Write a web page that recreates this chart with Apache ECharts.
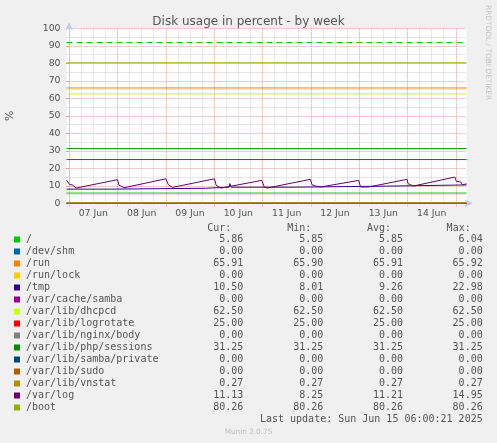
<!DOCTYPE html>
<html><head><meta charset="utf-8">
<script src="https://cdn.jsdelivr.net/npm/echarts@6/dist/echarts.min.js"></script>
<style>html,body{margin:0;padding:0;background:#F0F0F0;}#c{width:497px;height:443px;}</style>
</head><body><div id="c"></div>
<script>
// ---------- data ----------
const TITLE = 'Disk usage in percent - by week';
const Y_NAME = '%';
const WATERMARK = 'RRDTOOL / TOBI OETIKER';
const FOOTER = 'Munin 2.0.75';
const LAST_UPDATE = 'Last update: Sun Jun 15 06:00:21 2025';
const HEADERS = ['Cur:', 'Min:', 'Avg:', 'Max:'];

// time in hours since 07 Jun 00:00
const T_START = -1.3;
const T_END = 197.3;
const DAY_LABELS = ['07 Jun', '08 Jun', '09 Jun', '10 Jun', '11 Jun', '12 Jun', '13 Jun', '14 Jun'];
const DAY_LABEL_HOURS = [12, 36, 60, 84, 108, 132, 156, 180];
const MIDNIGHT_HOURS = [0, 24, 48, 72, 96, 120, 144, 168, 192];
const SIX_HOUR_MARKS = [6, 12, 18, 30, 36, 42, 54, 60, 66, 78, 84, 90, 102, 108, 114, 126, 132, 138, 150, 156, 162, 174, 180, 186];
const WARNING = 92;

const FIELD_NAMES = ['/', '/dev/shm', '/run', '/run/lock', '/tmp', '/var/cache/samba', '/var/lib/dhcpcd',
  '/var/lib/logrotate', '/var/lib/nginx/body', '/var/lib/php/sessions', '/var/lib/samba/private',
  '/var/lib/sudo', '/var/lib/vnstat', '/var/log', '/boot'];
const FIELD_COLORS = ['#00CC00', '#0066B3', '#FF8000', '#FFCC00', '#330099', '#990099', '#CCFF00',
  '#FF0000', '#808080', '#008F00', '#00487D', '#B35A00', '#B38F00', '#6B006B', '#8FB300'];
const CUR = [5.86, 0.00, 65.91, 0.00, 10.50, 0.00, 62.50, 25.00, 0.00, 31.25, 0.00, 0.00, 0.27, 11.13, 80.26];
const MIN = [5.85, 0.00, 65.90, 0.00, 8.01, 0.00, 62.50, 25.00, 0.00, 31.25, 0.00, 0.00, 0.27, 8.25, 80.26];
const AVG = [5.85, 0.00, 65.91, 0.00, 9.26, 0.00, 62.50, 25.00, 0.00, 31.25, 0.00, 0.00, 0.27, 11.21, 80.26];
const MAX = [6.04, 0.00, 65.92, 0.00, 22.98, 0.00, 62.50, 25.00, 0.00, 31.25, 0.00, 0.00, 0.27, 14.95, 80.26];

// series values: [hour, percent]
const S_ROOT = [[-1.3, 5.85], [197.3, 5.86]];
const S_DEVSHM = [[-1.3, 0], [197.3, 0]];
const S_RUN = [[-1.3, 65.91], [197.3, 65.91]];
const S_RUNLOCK = [[-1.3, 0], [197.3, 0]];
const S_TMP = [[-1.3, 8.1], [20.4, 8.1], [20.4, 8.6], [67.6, 8.6], [67.6, 9.2], [79.3, 9.2], [79.8, 11.3],
  [80.5, 9.2], [111.3, 9.2], [111.3, 9.8], [157, 9.8], [157, 10.4], [197.3, 10.5]];
const S_CACHESAMBA = [[-1.3, 0], [197.3, 0]];
const S_DHCPCD = [[-1.3, 62.5], [197.3, 62.5]];
const S_LOGROTATE = [[-1.3, 25], [197.3, 25]];
const S_NGINX = [[-1.3, 0], [197.3, 0]];
const S_PHP = [[-1.3, 31.25], [197.3, 31.25]];
const S_SAMBAPRIV = [[-1.3, 0], [197.3, 0]];
const S_SUDO = [[-1.3, 0], [197.3, 0]];
const S_VNSTAT = [[-1.3, 0.27], [197.3, 0.27]];
const S_VARLOG = [[-1.3, 13.3], [-0.5, 14.0], [0.3, 10.6], [1.5, 10.6], [2.3, 9.9], [3.5, 8.7],
  [24, 13.5], [24.8, 10.3], [26, 9.7], [27.3, 8.9],
  [48, 14.0], [49.3, 10.6], [51.3, 9.1],
  [72.2, 14.0], [73, 10.3], [74.5, 9.3], [75.5, 8.7],
  [95.7, 13.1], [96.9, 9.3], [98.2, 8.7],
  [119.8, 13.7], [120.6, 10.6], [122.3, 9.9], [124.8, 9.3],
  [143.8, 13.1], [144.7, 9.3], [145.5, 8.7], [148.6, 9.3],
  [167.8, 13.7], [168.3, 11.2], [169.5, 10.6], [171.1, 9.9],
  [191.5, 15.0], [192.2, 12.6], [194.4, 12.2], [195.2, 10.6], [197.3, 11.1]];
const S_BOOT = [[-1.3, 80.26], [197.3, 80.26]];
const SERIES_DATA = [S_ROOT, S_DEVSHM, S_RUN, S_RUNLOCK, S_TMP, S_CACHESAMBA, S_DHCPCD, S_LOGROTATE,
  S_NGINX, S_PHP, S_SAMBAPRIV, S_SUDO, S_VNSTAT, S_VARLOG, S_BOOT];

// ---------- chart ----------
const TXT = '#555';
const MAJOR = '#E59A9A';
const MINOR = '#CFCFCF';
const AXIS = '#C4C8F4';
const chart = echarts.init(document.getElementById('c'), null, {renderer: 'canvas'});

const series = FIELD_NAMES.map((n, i) => ({
  name: n, type: 'line', data: SERIES_DATA[i], showSymbol: false, symbol: 'none',
  lineStyle: {color: FIELD_COLORS[i], width: 1}, itemStyle: {color: FIELD_COLORS[i]},
  animation: false, silent: true,
  markLine: i === 0 ? {silent: true, symbol: 'none', label: {show: false}, animation: false,
    lineStyle: {color: FIELD_COLORS[0], type: [6, 4], width: 1}, data: [{yAxis: WARNING}]} : undefined
}));

// legend built from arrays
const graphic = [];
const colRight = [243.3, 323.3, 403, 482.7];
const rowY = i => 239.5 + 12 * i;
const mono = '10px "DejaVu Sans Mono"';
HEADERS.forEach((h, c) => graphic.push({type: 'text', x: colRight[c] - 12, y: 228.3,
  style: {text: h, font: mono, fill: TXT, align: 'right', verticalAlign: 'middle'}}));
const cols = [CUR, MIN, AVG, MAX];
FIELD_NAMES.forEach((n, i) => {
  graphic.push({type: 'rect', shape: {x: 14, y: rowY(i) - 3, width: 6, height: 6}, style: {fill: FIELD_COLORS[i]}});
  graphic.push({type: 'text', x: 26, y: rowY(i), style: {text: n, font: mono, fill: TXT, verticalAlign: 'middle'}});
  cols.forEach((arr, c) => graphic.push({type: 'text', x: colRight[c], y: rowY(i),
    style: {text: arr[i].toFixed(2), font: mono, fill: TXT, align: 'right', verticalAlign: 'middle'}}));
});
graphic.push({type: 'text', x: colRight[3], y: rowY(FIELD_NAMES.length),
  style: {text: LAST_UPDATE, font: mono, fill: TXT, align: 'right', verticalAlign: 'middle'}});
graphic.push({type: 'text', x: 248.5, y: 432,
  style: {text: FOOTER, font: '7.3px "DejaVu Sans"', fill: '#BDBDBD', align: 'center', verticalAlign: 'middle'}});
graphic.push({type: 'text', x: 488, y: 5, rotation: -Math.PI / 2,
  style: {text: WATERMARK, font: '7.4px "DejaVu Sans"', fill: '#C4C4C4', align: 'left', verticalAlign: 'middle'}});

chart.setOption({
  backgroundColor: '#F0F0F0',
  animation: false,
  title: {text: TITLE, left: 'center', top: 11,
    textStyle: {fontFamily: 'DejaVu Sans', fontSize: 12, fontWeight: 'normal', color: TXT}},
  grid: {left: 66.5, top: 28.3, width: 400, height: 175, show: true, backgroundColor: '#FFFFFF', borderWidth: 0,
    containLabel: false, outerBoundsMode: 'none'},
  xAxis: [{
    type: 'value', min: T_START, max: T_END, position: 'bottom',
    axisLine: {show: true, lineStyle: {color: AXIS, width: 1}, symbol: ['none', 'arrow'], symbolSize: [6, 8], symbolOffset: [0, 6]},
    axisTick: {show: true, customValues: MIDNIGHT_HOURS, length: 3, lineStyle: {color: MAJOR, type: [1, 1]}},
    splitLine: {show: true, lineStyle: {color: MAJOR, type: [1, 1], width: 1}},
    axisLabel: {customValues: DAY_LABEL_HOURS, formatter: v => DAY_LABELS[DAY_LABEL_HOURS.indexOf(v)] || '',
      fontFamily: 'DejaVu Sans', fontSize: 9.3, color: TXT, margin: 6}
  }, {
    type: 'value', min: T_START, max: T_END, position: 'top',
    axisLine: {show: false}, axisLabel: {show: false},
    axisTick: {show: false, customValues: SIX_HOUR_MARKS},
    splitLine: {show: true, lineStyle: {color: MINOR, type: [1, 1], width: 1}}
  }],
  yAxis: {
    type: 'value', min: 0, max: 100, interval: 10,
    name: Y_NAME, nameLocation: 'middle', nameGap: 51, nameRotate: 90,
    nameTextStyle: {fontFamily: 'DejaVu Sans', fontSize: 11, color: TXT},
    axisLine: {show: true, lineStyle: {color: AXIS, width: 1}, symbol: ['none', 'arrow'], symbolSize: [6, 8], symbolOffset: [0, 6]},
    axisTick: {show: true, length: 3, lineStyle: {color: MAJOR}},
    axisLabel: {fontFamily: 'DejaVu Sans', fontSize: 9.3, color: TXT, margin: 6},
    splitLine: {show: true, lineStyle: {color: MAJOR, type: [1, 1], width: 1}},
    minorTick: {show: false, splitNumber: 2},
    minorSplitLine: {show: true, lineStyle: {color: MINOR, type: [1, 1], width: 1}}
  },
  series: series,
  graphic: graphic
});
</script></body></html>
